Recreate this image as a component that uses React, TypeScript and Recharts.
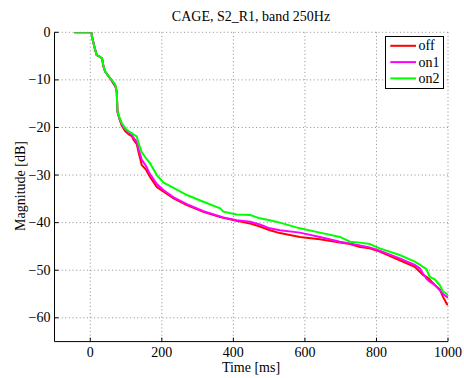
import React from "react";
import { LineChart, Line, XAxis, YAxis, CartesianGrid, Legend } from "recharts";

const timeMs = [
  -45, 3, 6, 12, 18, 26, 33, 37, 42, 49, 56, 63, 70, 74, 76, 82, 88, 98, 107, 116, 121, 130, 135, 144, 155,
  167, 186, 205, 233, 270, 316, 363, 372, 409, 447, 474, 502, 530, 586, 642, 698, 726, 754, 781, 809, 865,
  907, 921, 930, 940, 949, 963, 977, 986, 997, 1000,
];
const offDb = [
  0, 0, -1.3, -3.2, -4.8, -5.1, -5.5, -7.2, -8.3, -9, -9.7, -10.6, -11.3, -12.5, -16.7, -18.3, -19.6, -20.8,
  -21.4, -21.8, -22.6, -23.5, -25.2, -27.9, -28.8, -30.4, -32.5, -33.5, -34.9, -36.3, -37.7, -38.8, -39,
  -39.6, -40.2, -40.8, -41.6, -42.2, -43, -43.5, -44.2, -44.5, -45.1, -45.4, -46.1, -47.9, -49.3, -50.3,
  -51, -51.4, -52, -53.1, -54, -55.6, -57.1, -57.3,
];
const on1Db = [
  0, 0, -1.3, -3.2, -4.8, -5.1, -5.5, -7.2, -8.3, -9, -9.7, -10.4, -11.2, -12.5, -16.7, -18.2, -19.3, -20.5,
  -21.1, -21.5, -22.2, -23, -24.5, -26.8, -28, -29.8, -31.9, -33.2, -34.7, -36.1, -37.6, -38.7, -38.9,
  -39.5, -39.8, -40.4, -41.2, -41.6, -42.1, -43, -44, -44.4, -44.8, -45.2, -45.9, -47.5, -48.9, -49.6,
  -50.7, -51.8, -52.4, -53.1, -54.2, -55, -55.6, -55.8,
];
const on2Db = [
  0, 0, -1.3, -3.2, -4.8, -5.1, -5.5, -7.2, -8.3, -9, -9.7, -10.3, -11, -12.5, -16.5, -18, -19.1, -20.2,
  -20.8, -21.2, -21.5, -21.9, -23.3, -25.2, -26.4, -27.5, -30, -31.6, -32.7, -34.2, -35.6, -37, -37.7,
  -38.3, -38.4, -39.1, -39.5, -40, -41.2, -42.1, -43, -44, -44.2, -44.5, -45.4, -46.8, -48.2, -48.8,
  -49.3, -49.8, -51.4, -51.9, -53.1, -54.5, -55, -55.2,
];
const xTicks = [0, 200, 400, 600, 800, 1000];
const yTicks = [-60, -50, -40, -30, -20, -10, 0];
const seriesNames = ["off", "on1", "on2"];
const seriesColors = ["#ff0000", "#ff00ff", "#00ff00"];

const data = timeMs.map((t, i) => ({ t, off: offDb[i], on1: on1Db[i], on2: on2Db[i] }));

const FONT = "'Liberation Serif', 'DejaVu Serif', serif";
const FS = 14;
const fmt = (v: number) => (v < 0 ? "\u2212" + Math.abs(v) : String(v));

const YTick = (props: any) => {
  const { x, y, payload } = props;
  const ax = x + 4;
  return (
    <g>
      <text x={x} y={y} textAnchor="end" dominantBaseline="central" fontSize={FS} fontFamily={FONT} fill="#000">
        {fmt(payload.value)}
      </text>
      <line x1={ax} x2={ax + 4} y1={y} y2={y} stroke="#000" strokeWidth={1} />
    </g>
  );
};

const XTick = (props: any) => {
  const { x, y, payload } = props;
  return (
    <g>
      <text x={x} y={y + 15} textAnchor="middle" fontSize={FS} fontFamily={FONT} fill="#000">
        {fmt(payload.value)}
      </text>
      <line x1={x} x2={x} y1={y} y2={y - 4} stroke="#000" strokeWidth={1} />
    </g>
  );
};

const LegendBox = (props: any) => {
  const payload = props.payload || [];
  return (
    <svg width={60} height={54} style={{ display: "block" }}>
      <rect x={0.5} y={0.5} width={58} height={52} fill="#fff" stroke="#000" strokeWidth={1} />
      {payload.map((p: any, i: number) => {
        const cy = 9.8 + i * 16.3;
        return (
          <g key={i}>
            <line x1={5.3} x2={31} y1={cy} y2={cy} stroke={p.color} strokeWidth={2} />
            <text x={33.5} y={cy + 4.6} fontSize={FS} fontFamily={FONT} fill="#000">
              {p.value}
            </text>
          </g>
        );
      })}
    </svg>
  );
};

export default function App() {
  return (
    <div style={{ position: "absolute", left: 0, top: 0, width: 464, height: 378, background: "#fff" }}>
      <LineChart width={464} height={378} data={data} margin={{ top: 32.3, right: 16, bottom: 0, left: 0 }}>
        <CartesianGrid
          stroke="#8c8c8c"
          strokeDasharray="1 2.6"
          horizontalValues={yTicks}
          verticalValues={xTicks}
        />
        <XAxis
          dataKey="t"
          type="number"
          domain={[-100, 1000]}
          ticks={xTicks}
          height={36.4}
          tickSize={0}
          tickMargin={0}
          tickLine={false}
          axisLine={{ stroke: "#000", strokeWidth: 1 }}
          tick={<XTick />}
          allowDataOverflow
        />
        <YAxis
          type="number"
          domain={[-65, 0]}
          ticks={yTicks}
          width={54.5}
          tickSize={0}
          tickMargin={4}
          tickLine={false}
          axisLine={{ stroke: "#000", strokeWidth: 1 }}
          tick={<YTick />}
          allowDataOverflow
        />
        <Legend
          layout="vertical"
          align="center"
          verticalAlign="middle"
          content={<LegendBox />}
          wrapperStyle={{ position: "absolute", left: 384.7, top: 35.7, width: 60, height: 54 }}
        />
        {seriesNames.map((n, i) => (
          <Line
            key={n}
            dataKey={n}
            name={n}
            stroke={seriesColors[i]}
            strokeWidth={2}
            dot={false}
            type="linear"
            isAnimationActive={false}
          />
        ))}
        <text x={251} y={20.5} textAnchor="middle" fontSize={FS} fontFamily={FONT} fill="#000">
          CAGE, S2_R1, band 250Hz
        </text>
        <text x={251} y={371.5} textAnchor="middle" fontSize={FS} fontFamily={FONT} fill="#000">
          Time [ms]
        </text>
        <text
          x={0}
          y={0}
          transform="translate(24.5,186) rotate(-90)"
          textAnchor="middle"
          fontSize={FS}
          fontFamily={FONT}
          fill="#000"
        >
          Magnitude [dB]
        </text>
      </LineChart>
    </div>
  );
}
